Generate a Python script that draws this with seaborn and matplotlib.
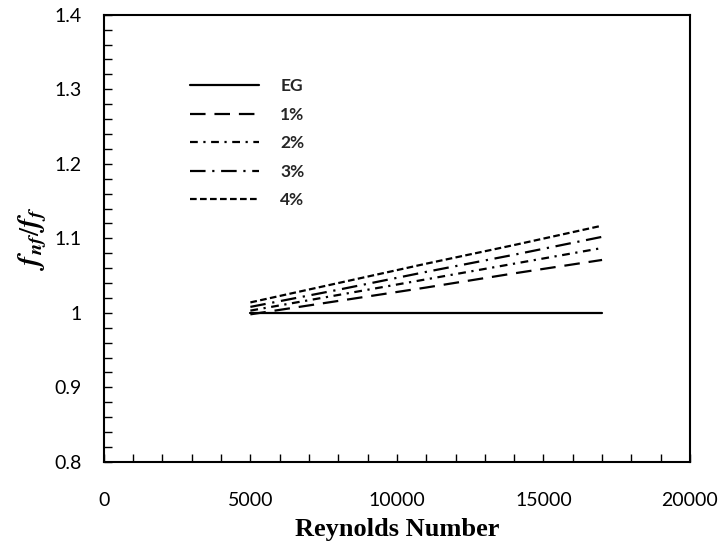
import matplotlib
matplotlib.use('Agg')
import matplotlib.pyplot as plt
from matplotlib.ticker import MultipleLocator
import seaborn as sns
import pandas as pd

# Values
reynolds = [5000, 8000, 11000, 14000, 17000]
series_names = ['EG', '1%', '2%', '3%', '4%']
ratio_eg = [1.000, 1.000, 1.000, 1.000, 1.000]
ratio_1 = [0.998, 1.016, 1.034, 1.053, 1.071]
ratio_2 = [1.003, 1.024, 1.045, 1.066, 1.087]
ratio_3 = [1.008, 1.031, 1.055, 1.078, 1.102]
ratio_4 = [1.014, 1.040, 1.066, 1.091, 1.117]

all_ratios = [ratio_eg, ratio_1, ratio_2, ratio_3, ratio_4]
rows = []
for name, vals in zip(series_names, all_ratios):
    for re_val, v in zip(reynolds, vals):
        rows.append({'Re': re_val, 'ratio': v, 'case': name})
df = pd.DataFrame(rows)

sns.set_style('ticks')
plt.rcParams['font.family'] = ['Lato', 'DejaVu Sans']
plt.rcParams['mathtext.fontset'] = 'stix'

fig, ax = plt.subplots(figsize=(7.21, 5.46), dpi=100)
fig.subplots_adjust(left=0.144, right=0.957, top=0.973, bottom=0.154)

# line styles per case, like the original
dash_styles = {
    'EG': '',
    '1%': (7, 4),
    '2%': (3.5, 2.5, 1, 2.5),
    '3%': (7, 3, 1, 3),
    '4%': (3, 1.5),
}
sns.lineplot(data=df, x='Re', y='ratio', hue='case', style='case',
             palette=['black'] * 5, dashes=dash_styles, linewidth=1.6,
             ax=ax)

ax.set_xlim(0, 20000)
ax.set_ylim(0.8, 1.4)
ax.xaxis.set_major_locator(MultipleLocator(5000))
ax.xaxis.set_minor_locator(MultipleLocator(1000))
ax.yaxis.set_minor_locator(MultipleLocator(0.02))
ax.set_yticks([0.8, 0.9, 1.0, 1.1, 1.2, 1.3, 1.4])
ax.set_yticklabels(['0.8', '0.9', '1', '1.1', '1.2', '1.3', '1.4'])
ax.tick_params(which='both', direction='in', color='black',
               labelcolor='black', labelsize=14)
ax.tick_params(which='both', length=6, width=1)
ax.tick_params(axis='x', pad=22)
ax.tick_params(axis='y', pad=16)
for sp in ax.spines.values():
    sp.set_color('black')
    sp.set_linewidth(1.5)

ax.set_xlabel('Reynolds Number', family='Liberation Serif', fontweight='bold',
              fontsize=19, color='black', labelpad=6)
ax.set_ylabel(r'$\mathbfit{f}_{\mathbfit{nf}}/\mathbfit{f}_{\mathbfit{f}}$',
              fontsize=21, labelpad=4, color='black')

handles, labels = ax.get_legend_handles_labels()
leg = ax.legend(handles, labels, loc='upper left', bbox_to_anchor=(0.147, 0.858),
                frameon=False, handlelength=4.0, handletextpad=1.2,
                labelspacing=0.72, borderaxespad=0, borderpad=0,
                prop={'weight': 'bold', 'size': 12.5})

fig.savefig('out.png', dpi=100)
